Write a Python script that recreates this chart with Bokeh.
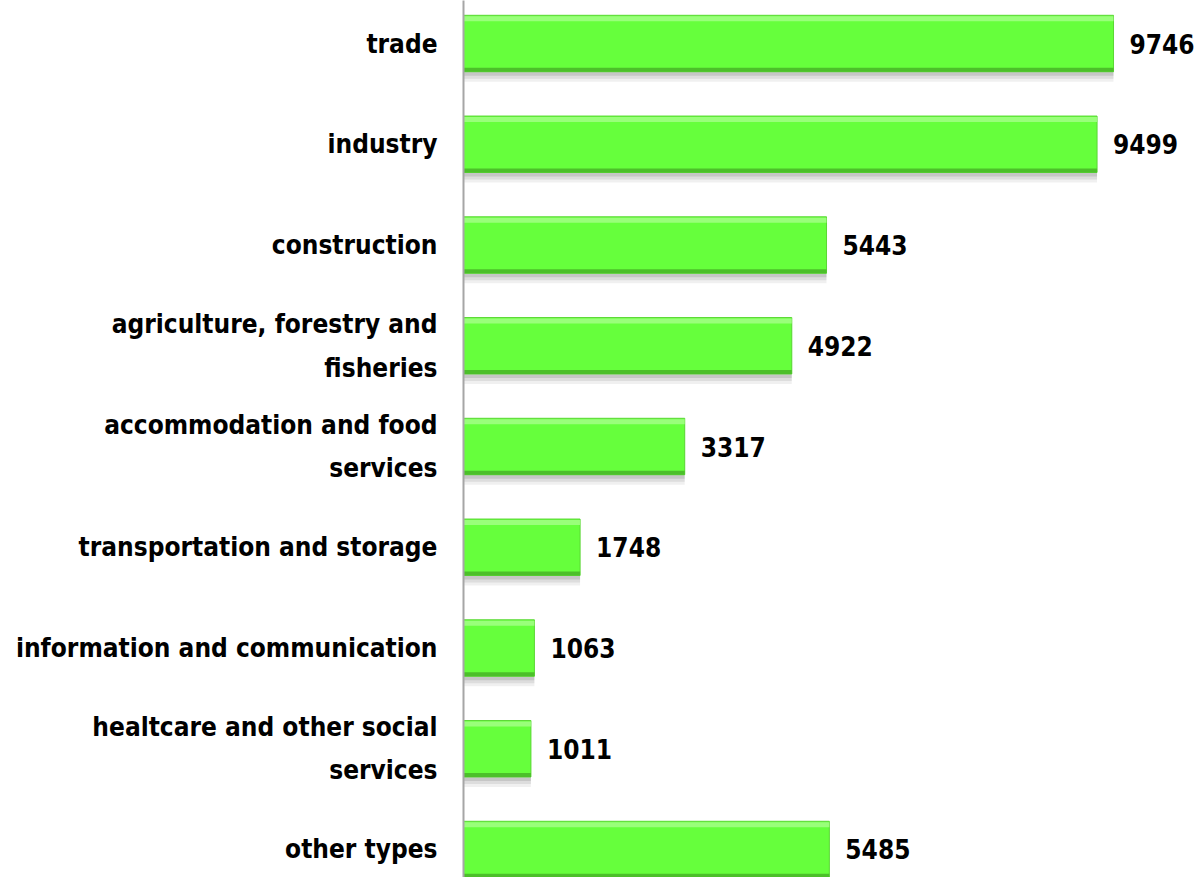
from bokeh.plotting import figure
from bokeh.models import ColumnDataSource, Range1d, FixedTicker, LabelSet
from bokeh.transform import dodge
from bokeh.core.properties import value
from bokeh.embed import file_html
from bokeh.resources import INLINE

categories = [
    "trade",
    "industry",
    "construction",
    "agriculture, forestry and\nfisheries",
    "accommodation and food\nservices",
    "transportation and storage",
    "information and communication",
    "healtcare and other social\nservices",
    "other types",
]
values = [9746, 9499, 5443, 4922, 3317, 1748, 1063, 1011, 5485]

FONT = "DejaVu Sans Condensed"
pos = list(range(len(categories)))
src = ColumnDataSource(dict(y=pos, v=values, lab=[str(v) for v in values]))

p = figure(width=1202, height=877, output_backend="svg", toolbar_location=None,
           x_range=Range1d(0, 11080), y_range=Range1d(8.278, -0.427),
           min_border_left=463, min_border_right=0, min_border_top=0, min_border_bottom=0)
p.background_fill_color = "white"
p.border_fill_color = "white"
p.outline_line_color = None
p.grid.visible = False
p.xaxis.visible = False

H = 0.56
# shadow
p.hbar(y=dodge("y", 0.10, range=p.y_range), right="v", left=0, height=H, source=src,
       fill_color="#000000", fill_alpha=0.06, line_color=None)
p.hbar(y=dodge("y", 0.07, range=p.y_range), right="v", left=0, height=H, source=src,
       fill_color="#000000", fill_alpha=0.08, line_color=None)
p.hbar(y=dodge("y", 0.04, range=p.y_range), right="v", left=0, height=H, source=src,
       fill_color="#000000", fill_alpha=0.10, line_color=None)
# main bar
p.hbar(y="y", right="v", left=0, height=H, source=src,
       fill_color="#66ff3c", line_color="#5ad834", line_width=1)
# top highlight
p.hbar(y=dodge("y", -H/2 + 0.035, range=p.y_range), right="v", left=0, height=0.05, source=src,
       fill_color="#a6ff8a", fill_alpha=0.8, line_color=None)
# bottom dark edge
p.hbar(y=dodge("y", H/2 - 0.02, range=p.y_range), right="v", left=0, height=0.04, source=src,
       fill_color="#4cbf2a", line_color=None)

labels = LabelSet(x="v", y="y", text="lab", source=src, x_offset=16,
                  text_font=value(FONT), text_font_style="bold", text_font_size="26px",
                  text_baseline="middle", text_color="black")
p.add_layout(labels)

ax = p.yaxis[0]
ax.ticker = FixedTicker(ticks=pos)
ax.major_label_overrides = {i: c for i, c in zip(pos, categories)}
ax.major_tick_line_color = None
ax.minor_tick_line_color = None
ax.axis_line_color = "#a6a6a6"
ax.axis_line_width = 2
ax.major_label_standoff = 20
ax.major_label_text_font = FONT
ax.major_label_text_font_style = "bold"
ax.major_label_text_font_size = "26px"
ax.major_label_text_color = "black"
ax.major_label_text_line_height = 1.45

open("out.html", "w").write(file_html(p, INLINE))
